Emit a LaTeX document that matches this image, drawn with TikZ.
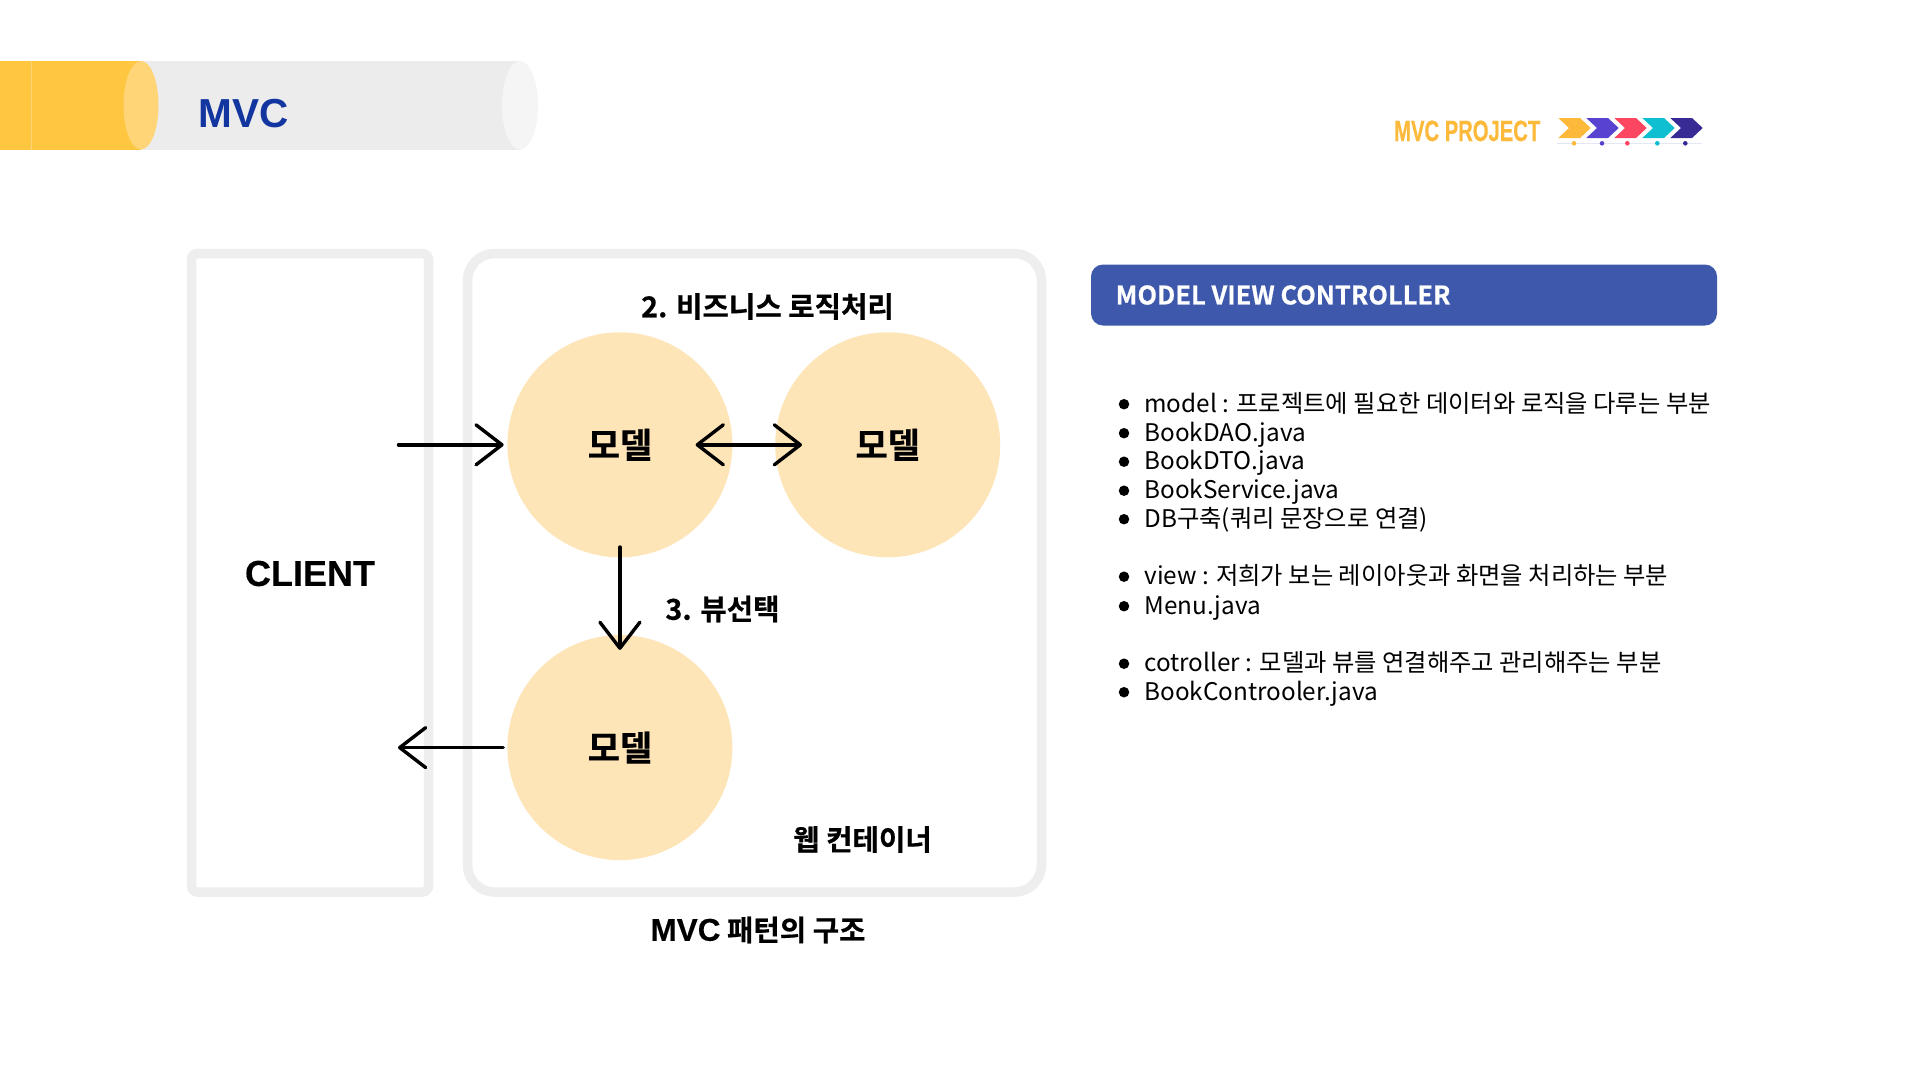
\documentclass[tikz,border=0pt]{standalone}
\usepackage{fontspec}
\setmainfont{Noto Sans CJK KR}
\newfontfamily\krreg{Noto Sans CJK KR}
\newfontfamily\krbold[FakeBold=0.5]{Noto Sans CJK KR Bold}
\newfontfamily\latbold{Liberation Sans}
\newfontfamily\latheavy[FakeBold=0.4]{Liberation Sans Bold}
\newfontfamily\projfont[FakeStretch=0.69,FakeBold=0.5]{Liberation Sans}
\usetikzlibrary{arrows.meta}
\definecolor{panelgray}{HTML}{EEEEEE}
\definecolor{cream}{HTML}{FDE5B8}
\definecolor{barblue}{HTML}{3E59AB}
\definecolor{titleblue}{HTML}{1235A0}
\definecolor{baryellow}{HTML}{FFC640}
\definecolor{barlight}{HTML}{FFD577}
\definecolor{barend}{HTML}{F5F5F5}
\definecolor{barbody}{HTML}{ECECEC}
\definecolor{chevA}{HTML}{FDB93A}
\definecolor{chevB}{HTML}{5743D0}
\definecolor{chevC}{HTML}{FC4560}
\definecolor{chevD}{HTML}{0DBFD0}
\definecolor{chevE}{HTML}{392B95}
\definecolor{timeline}{HTML}{E4E8F4}
\newcommand{\fsz}[1]{\fontsize{#1}{#1}\selectfont}
\tikzset{
  x=1pt,y=-1pt,
  panel/.style={draw=panelgray,line width=9.5pt,fill=white},
  modelc/.style={circle,fill=cream,minimum size=225pt,inner sep=0pt,font=\krbold\fsz{35}},
  lab/.style={inner sep=0pt,font=\krbold\fsz{28.7}},
  conn/.style={line width=3.4pt,line cap=round,line join=round,-{Straight Barb[length=26pt,width=40pt,line cap=round,line join=round]}},
  conn2/.style={line width=3.4pt,line cap=round,line join=round,{Straight Barb[length=26pt,width=40pt,line cap=round,line join=round]}-{Straight Barb[length=26pt,width=40pt,line cap=round,line join=round]}},
  litext/.style={inner sep=0pt,anchor=base west,font=\krreg\fsz{24.3}},
  libullet/.style={circle,fill=black,inner sep=0pt,minimum size=10.5pt},
  dot/.style={circle,inner sep=0pt,minimum size=4.6pt},
}
\newcommand{\chevron}[2]{\fill[#2] (#1,118) -- ++(21.7,0) -- ++(10.7,10) -- ++(-10.7,10) -- ++(-21.7,0) -- ++(10.7,-10) -- cycle;}
\newcommand{\litem}[3]{\node[libullet] (b#1) at (1124,#2+1.2) {}; \node[litext] (t#1) at (1144.2,#2+9) {#3};}
\begin{document}
\begin{tikzpicture}
\useasboundingbox (0,0) rectangle (1920,1080);
\fill[white] (0,0) rectangle (1920,1080);
% title bar
\fill[barbody] (141,61) rectangle (520,149.5);
\fill[barend] (520,105.2) ellipse [x radius=18,y radius=44.2];
\fill[baryellow] (0,61) rectangle (141,149.5);
\draw[barlight,line width=0.6pt] (31,61) -- (31,149.5);
\fill[barlight] (141,105.2) ellipse [x radius=17.5,y radius=44.2];
\node[inner sep=0pt,anchor=base west,font=\latbold\bfseries\fsz{40.5},text=titleblue] (title) at (198.5,127) {MVC};
% project logo
\node[inner sep=0pt,anchor=base west,font=\projfont\bfseries\fsz{29.3},text=chevA] (proj) at (1394,141) {MVC PROJECT};
\draw[timeline,line width=1pt] (1557.3,143.3) -- (1701.7,143.3);
\chevron{1558.3}{chevA}
\chevron{1586.3}{chevB}
\chevron{1614.3}{chevC}
\chevron{1642.3}{chevD}
\chevron{1670.3}{chevE}
\node[dot,fill=chevA] (d1) at (1574,143.3) {};
\node[dot,fill=chevB] (d2) at (1602,143.3) {};
\node[dot,fill=chevC] (d3) at (1627.3,143.3) {};
\node[dot,fill=chevD] (d4) at (1657.3,143.3) {};
\node[dot,fill=chevE] (d5) at (1685.3,143.3) {};
% panels
\draw[panel,rounded corners=6pt] (191.5,253.5) rectangle (428.5,892);
\node[inner sep=0pt,font=\latheavy\fsz{36}] (client) at (310,573.5) {CLIENT};
\draw[panel,rounded corners=27pt] (467.5,253.5) rectangle (1041.5,892);
% circles
\node[modelc] (c1) at (619.9,444.8) {모델};
\node[modelc] (c2) at (887.7,444.8) {모델};
\node[modelc] (c3) at (619.9,747.6) {모델};
% labels
\node[lab] (l2) at (767.5,306.5) {2. 비즈니스 로직처리};
\node[lab] (l3) at (722.5,609) {3. 뷰선택};
\node[lab] (lw) at (862.5,839.5) {웹 컨테이너};
\node[lab] (lm) at (758,930) {{\latheavy\fsz{31.5}MVC} 패턴의 구조};
% connectors
\coordinate (tailin) at (398.5,444.8);
\coordinate (tipout) at (398,747.6);
\draw[conn,shorten >=3.5pt] (tailin) -- (c1.west);
\draw[conn2,shorten <=-37pt,shorten >=-27pt] (c1.east) -- (c2.west);
\draw[conn,shorten <=-10.5pt,shorten >=-15pt] (c1.south) -- (c3.north);
\draw[conn,shorten <=4pt] (c3.west) -- (tipout);
% right panel
\node[fill=barblue,rounded corners=12pt,minimum width=626pt,minimum height=61pt,inner sep=0pt] (banner) at (1404,295) {};
\node[inner sep=0pt,anchor=west,font=\krbold\fsz{25.5},text=white] (bannertext) at (1115.5,295) {MODEL VIEW CONTROLLER};
\litem{1}{403}{model : 프로젝트에 필요한 데이터와 로직을 다루는 부분}
\litem{2}{432}{BookDAO.java}
\litem{3}{460.5}{BookDTO.java}
\litem{4}{489.5}{BookService.java}
\litem{5}{518}{DB구축(쿼리 문장으로 연결)}
\litem{6}{575.5}{view : 저희가 보는 레이아웃과 화면을 처리하는 부분}
\litem{7}{605}{Menu.java}
\litem{8}{662.5}{cotroller : 모델과 뷰를 연결해주고 관리해주는 부분}
\litem{9}{691}{BookControoler.java}
\end{tikzpicture}
\end{document}
